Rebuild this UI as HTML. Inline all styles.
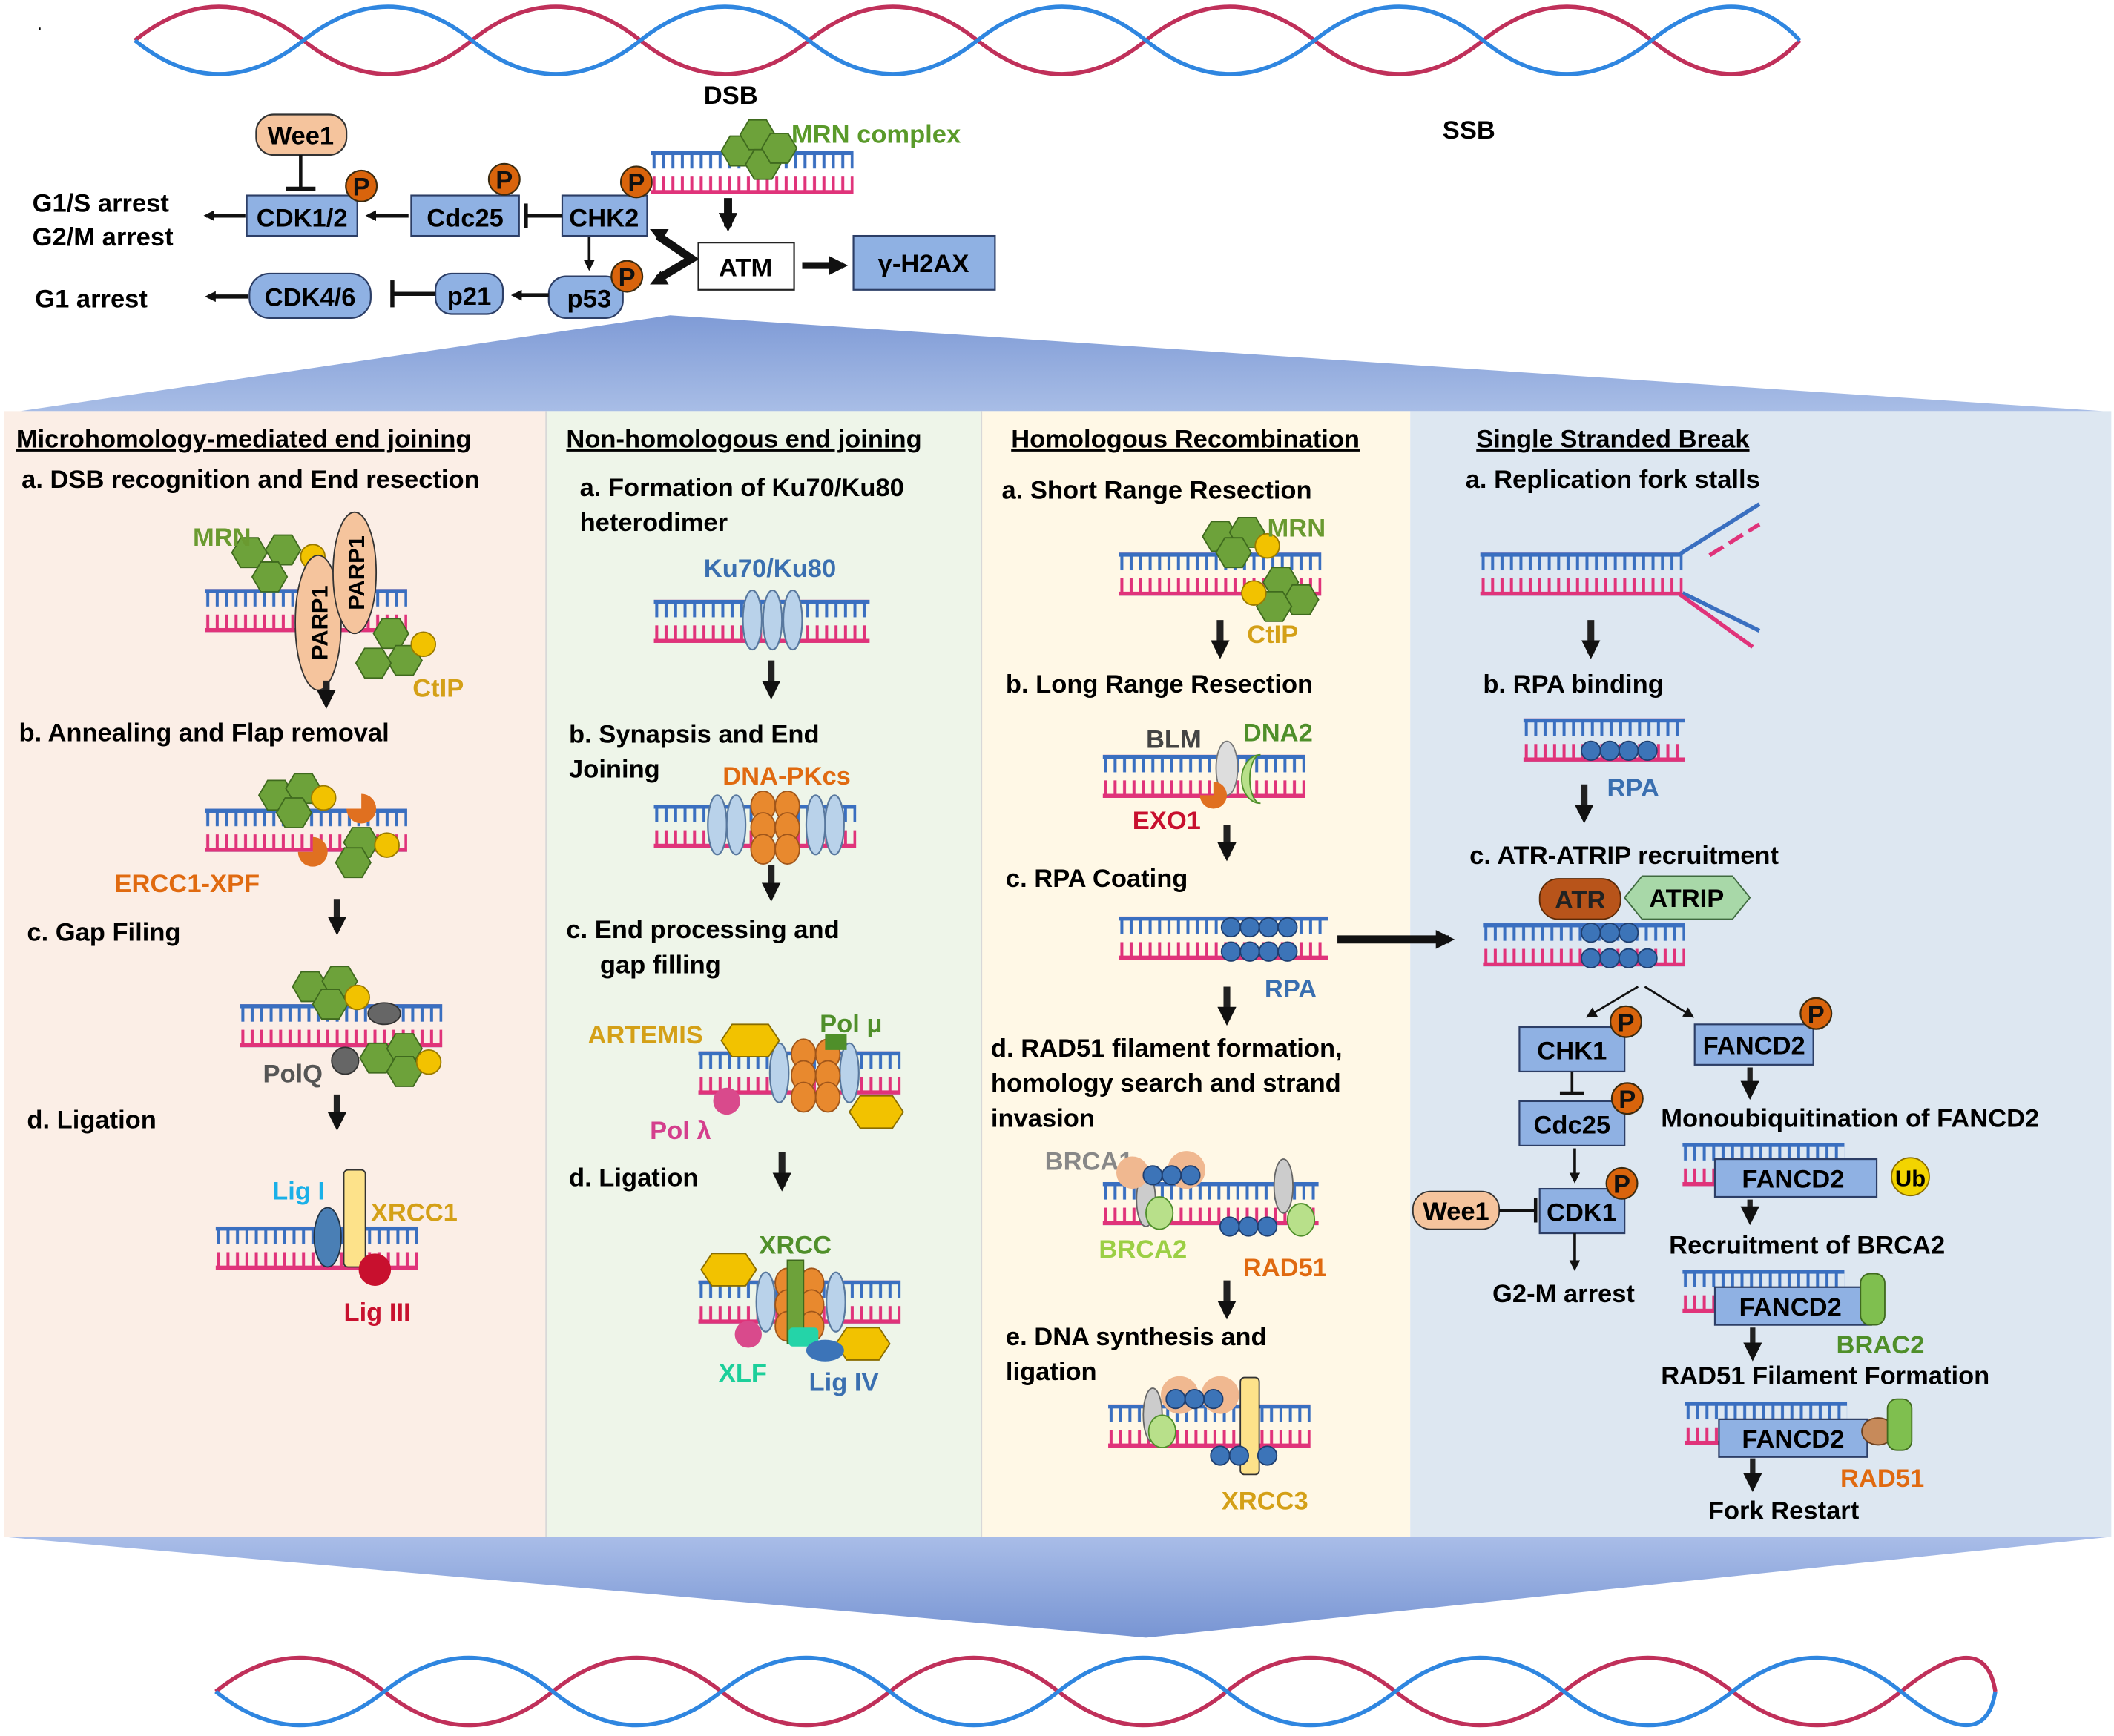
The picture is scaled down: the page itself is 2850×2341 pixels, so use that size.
<!DOCTYPE html>
<html><head><meta charset="utf-8"><style>
html,body{margin:0;padding:0;background:#fff}
svg{display:block}
text{font-family:"Liberation Sans",Arial,sans-serif;font-weight:bold}
</style></head><body>
<svg width="2850" height="2341" viewBox="0 0 1568 1288" xmlns="http://www.w3.org/2000/svg">
<defs>
<pattern id="lad" patternUnits="userSpaceOnUse" x="0" y="0" width="7" height="32">
<rect x="0" y="0" width="7" height="3" fill="#3a6fc0"/>
<rect x="1" y="0" width="2.2" height="13" fill="#3a6fc0"/>
<rect x="1" y="19" width="2.2" height="13" fill="#e0337a"/>
<rect x="0" y="29" width="7" height="3" fill="#e0337a"/>
</pattern>
<polygon id="hex" points="-13,0 -6.5,-11 6.5,-11 13,0 6.5,11 -6.5,11" fill="#6da23a" stroke="#3f6a1e" stroke-width="1"/>
<g id="P"><circle r="11.5" fill="#d9640c" stroke="#3a2a10" stroke-width="1.2"/><text y="7" text-anchor="middle" font-size="19" fill="#111">P</text></g>
<circle id="yc" r="9" fill="#f2c200" stroke="#9a7a00" stroke-width="1"/>
<circle id="bc" r="7" fill="#3c74b8" stroke="#1f3f70" stroke-width="1"/>
<ellipse id="le" rx="7" ry="22" fill="#b9d2ea" stroke="#58789e" stroke-width="1.2"/>
<ellipse id="oe" rx="9" ry="11" fill="#e8892e" stroke="#a1561a" stroke-width="1"/>
<marker id="ar" markerWidth="8" markerHeight="8" refX="6" refY="4" orient="auto" markerUnits="userSpaceOnUse"><path d="M0,0 L8,4 L0,8 z" fill="#111"/></marker>
<marker id="ar2" markerWidth="14" markerHeight="14" refX="10" refY="7" orient="auto" markerUnits="userSpaceOnUse"><path d="M0,0 L14,7 L0,14 z" fill="#111"/></marker>
<linearGradient id="tg" x1="0" y1="0" x2="0" y2="1"><stop offset="0" stop-color="#7f9bd6"/><stop offset="1" stop-color="#a8bde6"/></linearGradient>
<linearGradient id="bg" x1="0" y1="0" x2="0" y2="1"><stop offset="0" stop-color="#a9bde8"/><stop offset="1" stop-color="#7895d3"/></linearGradient>
</defs>

<!-- top helix -->
<path d="M100,30 Q162,-20 225,30 T350,30 T475,30 T600,30 T725,30 T850,30 T975,30 T1100,30 T1225,30 T1335,30" fill="none" stroke="#c0305a" stroke-width="3"/>
<path d="M100,30 Q162,80 225,30 T350,30 T475,30 T600,30 T725,30 T850,30 T975,30 T1100,30 T1225,30 T1335,30" fill="none" stroke="#2f86e0" stroke-width="3"/>
<text x="28" y="22" font-size="10">.</text>
<text x="522" y="77" font-size="19">DSB</text>
<text x="1070" y="103" font-size="19">SSB</text>

<!-- signaling -->
<rect x="190" y="85" width="67" height="30" rx="13" fill="#f5c49d" stroke="#333" stroke-width="1.2"/>
<text x="223" y="107" font-size="19" text-anchor="middle">Wee1</text>
<line x1="223" y1="115" x2="223" y2="140" stroke="#111" stroke-width="2.5"/><line x1="212" y1="140" x2="234" y2="140" stroke="#111" stroke-width="3"/>
<rect x="183" y="145" width="82" height="30" fill="#8fb1e3" stroke="#2c3e66" stroke-width="1.2"/><text x="224" y="168" font-size="19" text-anchor="middle">CDK1/2</text>
<use href="#P" x="268" y="138"/>
<rect x="305" y="145" width="80" height="30" fill="#8fb1e3" stroke="#2c3e66" stroke-width="1.2"/><text x="345" y="168" font-size="19" text-anchor="middle">Cdc25</text>
<use href="#P" x="374" y="133"/>
<rect x="417" y="145" width="63" height="30" fill="#8fb1e3" stroke="#2c3e66" stroke-width="1.2"/><text x="448" y="168" font-size="19" text-anchor="middle">CHK2</text>
<use href="#P" x="472" y="135"/>
<line x1="303" y1="160" x2="273" y2="160" stroke="#111" stroke-width="3" marker-end="url(#ar)"/>
<line x1="417" y1="160" x2="391" y2="160" stroke="#111" stroke-width="3"/><line x1="390" y1="151" x2="390" y2="169" stroke="#111" stroke-width="3"/>
<line x1="182" y1="160" x2="153" y2="160" stroke="#111" stroke-width="3" marker-end="url(#ar)"/>
<text x="24" y="157" font-size="19">G1/S arrest</text><text x="24" y="182" font-size="19">G2/M arrest</text>
<line x1="437" y1="176" x2="437" y2="199" stroke="#111" stroke-width="2" marker-end="url(#ar)"/>
<rect x="407" y="205" width="55" height="31" rx="13" fill="#8fb1e3" stroke="#2c3e66" stroke-width="1.2"/><text x="437" y="228" font-size="19" text-anchor="middle">p53</text>
<use href="#P" x="465" y="205"/>
<line x1="407" y1="219" x2="381" y2="219" stroke="#111" stroke-width="3" marker-end="url(#ar)"/>
<rect x="323" y="203" width="50" height="30" rx="12" fill="#8fb1e3" stroke="#2c3e66" stroke-width="1.2"/><text x="348" y="226" font-size="19" text-anchor="middle">p21</text>
<line x1="323" y1="218" x2="292" y2="218" stroke="#111" stroke-width="3"/><line x1="291" y1="208" x2="291" y2="228" stroke="#111" stroke-width="3"/>
<rect x="185" y="203" width="90" height="33" rx="15" fill="#8fb1e3" stroke="#2c3e66" stroke-width="1.2"/><text x="230" y="227" font-size="19" text-anchor="middle">CDK4/6</text>
<line x1="184" y1="220" x2="154" y2="220" stroke="#111" stroke-width="3" marker-end="url(#ar)"/>
<text x="26" y="228" font-size="19">G1 arrest</text>
<polyline points="488,175 513,192 488,207" fill="none" stroke="#111" stroke-width="6"/>
<path d="M482,170 l14,0 l-6,10 z M482,211 l14,0 l-6,-10 z" fill="#111"/>
<rect x="518" y="180" width="71" height="35" fill="#fff" stroke="#222" stroke-width="1.2"/><text x="553" y="205" font-size="19" text-anchor="middle">ATM</text>
<line x1="595" y1="197" x2="625" y2="197" stroke="#111" stroke-width="5" marker-end="url(#ar2)"/>
<rect x="633" y="175" width="105" height="40" fill="#8fb1e3" stroke="#2c3e66" stroke-width="1.2"/><text x="685" y="202" font-size="19" text-anchor="middle">γ-H2AX</text>
<rect width="150" height="32" fill="url(#lad)" transform="translate(483,112)"/>
<use href="#hex" x="548" y="112"/><use href="#hex" x="562" y="100"/><use href="#hex" x="566" y="122"/><use href="#hex" x="578" y="110"/>
<text x="587" y="106" font-size="19" fill="#5a9a2a">MRN complex</text>
<line x1="540" y1="147" x2="540" y2="168" stroke="#111" stroke-width="6" marker-end="url(#ar2)"/>

<polygon points="497,234 1560,305 15,305" fill="url(#tg)"/>

<!-- panels -->
<rect x="3" y="305" width="402" height="835" fill="#fbeee6"/>
<rect x="405" y="305" width="323" height="835" fill="#eef5e9"/>
<rect x="728" y="305" width="318" height="835" fill="#fff8e6"/>
<rect x="1046" y="305" width="520" height="835" fill="#dde7f1"/>
<line x1="405" y1="305" x2="405" y2="1140" stroke="#d8d8d8"/><line x1="728" y1="305" x2="728" y2="1140" stroke="#d8d8d8"/>

<!-- panel 1 -->
<text x="12" y="332" font-size="19" text-decoration="underline">Microhomology-mediated end joining</text>
<text x="16" y="362" font-size="19">a. DSB recognition and End resection</text>
<rect width="150" height="32" fill="url(#lad)" transform="translate(152,437)"/>
<use href="#hex" x="185" y="410"/><use href="#hex" x="210" y="408"/><use href="#hex" x="200" y="428"/><use href="#yc" x="232" y="413"/>
<ellipse cx="236" cy="462" rx="17" ry="50" fill="#f5c49d" stroke="#333"/><text transform="translate(243,462) rotate(-90)" font-size="17" text-anchor="middle">PARP1</text>
<ellipse cx="263" cy="425" rx="16" ry="45" fill="#f5c49d" stroke="#333"/><text transform="translate(270,425) rotate(-90)" font-size="17" text-anchor="middle">PARP1</text>
<use href="#hex" x="290" y="470"/><use href="#hex" x="300" y="490"/><use href="#hex" x="277" y="492"/><use href="#yc" x="314" y="478"/>
<text x="143" y="405" font-size="19" fill="#6a9a30">MRN</text>
<text x="306" y="517" font-size="19" fill="#d4a017">CtIP</text>
<line x1="242" y1="505" x2="242" y2="522" stroke="#222" stroke-width="5" marker-end="url(#ar2)"/>
<text x="14" y="550" font-size="19">b. Annealing and Flap removal</text>
<rect width="150" height="32" fill="url(#lad)" transform="translate(152,600)"/>
<use href="#hex" x="205" y="590"/><use href="#hex" x="225" y="585"/><use href="#hex" x="218" y="603"/><use href="#yc" x="240" y="592"/>
<path d="M268,600 m-11,0 a11,11 0 1,0 11,-11 l0,11 z" fill="#e07020"/>
<path d="M232,632 m-11,0 a11,11 0 1,0 11,-11 l0,11 z" fill="#e07020"/>
<use href="#hex" x="268" y="625"/><use href="#hex" x="262" y="640"/><use href="#yc" x="287" y="627"/>
<text x="85" y="662" font-size="19" fill="#e06a10">ERCC1-XPF</text>
<line x1="250" y1="667" x2="250" y2="690" stroke="#222" stroke-width="5" marker-end="url(#ar2)"/>
<text x="20" y="698" font-size="19">c. Gap Filing</text>
<rect width="150" height="32" fill="url(#lad)" transform="translate(178,745)"/>
<use href="#hex" x="230" y="732"/><use href="#hex" x="252" y="728"/><use href="#hex" x="245" y="745"/><use href="#yc" x="265" y="740"/>
<ellipse cx="285" cy="752" rx="12" ry="8" fill="#666" stroke="#333"/><circle cx="256" cy="787" r="10" fill="#666" stroke="#333"/>
<use href="#hex" x="280" y="785"/><use href="#hex" x="300" y="778"/><use href="#hex" x="300" y="795"/><use href="#yc" x="318" y="788"/>
<text x="195" y="803" font-size="19" fill="#555">PolQ</text>
<line x1="250" y1="812" x2="250" y2="835" stroke="#222" stroke-width="5" marker-end="url(#ar2)"/>
<text x="20" y="837" font-size="19">d. Ligation</text>
<rect width="150" height="32" fill="url(#lad)" transform="translate(160,910)"/>
<ellipse cx="243" cy="918" rx="10" ry="22" fill="#4a7fb5" stroke="#234"/>
<rect x="255" y="868" width="16" height="72" rx="3" fill="#fde28a" stroke="#333"/>
<circle cx="278" cy="942" r="12" fill="#c8102e"/>
<text x="202" y="890" font-size="19" fill="#1ab0e8">Lig I</text>
<text x="275" y="906" font-size="19" fill="#d4a017">XRCC1</text>
<text x="255" y="980" font-size="19" fill="#c8102e">Lig III</text>

<!-- panel 2 -->
<text x="420" y="332" font-size="19" text-decoration="underline">Non-homologous end joining</text>
<text x="430" y="368" font-size="19">a. Formation of Ku70/Ku80</text>
<text x="430" y="394" font-size="19">heterodimer</text>
<text x="522" y="428" font-size="19" fill="#3a6fb0">Ku70/Ku80</text>
<rect width="160" height="32" fill="url(#lad)" transform="translate(485,445)"/>
<use href="#le" x="558" y="460"/><use href="#le" x="573" y="460"/><use href="#le" x="588" y="460"/>
<line x1="572" y1="490" x2="572" y2="515" stroke="#222" stroke-width="5" marker-end="url(#ar2)"/>
<text x="422" y="551" font-size="19">b. Synapsis and End</text>
<text x="422" y="577" font-size="19">Joining</text>
<text x="536" y="582" font-size="19" fill="#e06a10">DNA-PKcs</text>
<rect width="150" height="32" fill="url(#lad)" transform="translate(485,597)"/>
<use href="#le" x="532" y="612"/><use href="#le" x="546" y="612"/><use href="#le" x="605" y="612"/><use href="#le" x="619" y="612"/>
<use href="#oe" x="566" y="598"/><use href="#oe" x="584" y="598"/><use href="#oe" x="566" y="614"/><use href="#oe" x="584" y="614"/><use href="#oe" x="566" y="630"/><use href="#oe" x="584" y="630"/>
<line x1="572" y1="642" x2="572" y2="665" stroke="#222" stroke-width="5" marker-end="url(#ar2)"/>
<text x="420" y="696" font-size="19">c. End processing and</text>
<text x="445" y="722" font-size="19">gap filling</text>
<text x="436" y="774" font-size="19" fill="#d4a017">ARTEMIS</text>
<text x="608" y="766" font-size="19" fill="#4f8f2a">Pol μ</text>
<text x="482" y="845" font-size="19" fill="#d43f8d">Pol λ</text>
<rect width="150" height="32" fill="url(#lad)" transform="translate(518,780)"/>
<use href="#le" x="578" y="796"/><use href="#le" x="630" y="796"/>
<use href="#oe" x="596" y="782"/><use href="#oe" x="614" y="782"/><use href="#oe" x="596" y="798"/><use href="#oe" x="614" y="798"/><use href="#oe" x="596" y="814"/><use href="#oe" x="614" y="814"/>
<polygon points="535,772 543,760 570,760 578,772 570,784 543,784" fill="#f2c200" stroke="#8a6d00"/>
<polygon points="630,825 638,813 662,813 670,825 662,837 638,837" fill="#f2c200" stroke="#8a6d00"/>
<circle cx="539" cy="817" r="10" fill="#d94a8c"/>
<rect x="612" y="767" width="16" height="12" fill="#4f8f2a"/>
<line x1="580" y1="855" x2="580" y2="880" stroke="#222" stroke-width="5" marker-end="url(#ar2)"/>
<text x="422" y="880" font-size="19">d. Ligation</text>
<text x="563" y="930" font-size="19" fill="#4f8f2a">XRCC</text>
<rect width="150" height="32" fill="url(#lad)" transform="translate(518,950)"/>
<use href="#le" x="568" y="966"/><use href="#le" x="620" y="966"/>
<use href="#oe" x="584" y="952"/><use href="#oe" x="602" y="952"/><use href="#oe" x="584" y="968"/><use href="#oe" x="602" y="968"/><use href="#oe" x="584" y="984"/><use href="#oe" x="602" y="984"/>
<rect x="584" y="935" width="12" height="62" fill="#6da23a" stroke="#3f6a1e"/>
<polygon points="520,942 528,930 553,930 561,942 553,954 528,954" fill="#f2c200" stroke="#8a6d00"/>
<polygon points="620,997 628,985 652,985 660,997 652,1009 628,1009" fill="#f2c200" stroke="#8a6d00"/>
<circle cx="555" cy="990" r="10" fill="#d94a8c"/>
<rect x="585" y="985" width="22" height="14" rx="3" fill="#24d4a8"/>
<ellipse cx="612" cy="1002" rx="14" ry="8" fill="#3c74b8"/>
<text x="533" y="1025" font-size="19" fill="#1ccf9a">XLF</text>
<text x="600" y="1032" font-size="19" fill="#3a6fb0">Lig IV</text>

<!-- panel 3 -->
<text x="750" y="332" font-size="19" text-decoration="underline">Homologous Recombination</text>
<text x="743" y="370" font-size="19">a. Short Range Resection</text>
<rect width="150" height="32" fill="url(#lad)" transform="translate(830,410)"/>
<use href="#hex" x="905" y="398"/><use href="#hex" x="925" y="395"/><use href="#hex" x="915" y="410"/><use href="#yc" x="940" y="405"/>
<use href="#hex" x="950" y="432"/><use href="#hex" x="965" y="445"/><use href="#hex" x="945" y="450"/><use href="#yc" x="930" y="440"/>
<text x="940" y="398" font-size="19" fill="#6a9a30">MRN</text>
<text x="925" y="477" font-size="19" fill="#d4a017">CtIP</text>
<line x1="905" y1="460" x2="905" y2="485" stroke="#222" stroke-width="5" marker-end="url(#ar2)"/>
<text x="746" y="514" font-size="19">b. Long Range Resection</text>
<text x="850" y="555" font-size="19" fill="#444">BLM</text>
<text x="922" y="550" font-size="19" fill="#4f8f2a">DNA2</text>
<rect width="150" height="32" fill="url(#lad)" transform="translate(818,560)"/>
<ellipse cx="910" cy="570" rx="8" ry="20" fill="#ddd" stroke="#777"/>
<path d="M935,560 a14,18 0 1,0 0,36 a8,18 0 1,1 0,-36z" fill="#b8e08a" stroke="#4f8f2a"/>
<path d="M900,590 m-10,0 a10,10 0 1,0 10,-10 l0,10 z" fill="#e07020"/>
<text x="840" y="615" font-size="19" fill="#c8102e">EXO1</text>
<line x1="910" y1="612" x2="910" y2="635" stroke="#222" stroke-width="5" marker-end="url(#ar2)"/>
<text x="746" y="658" font-size="19">c. RPA Coating</text>
<rect width="155" height="32" fill="url(#lad)" transform="translate(830,680)"/>
<use href="#bc" x="913" y="688"/><use href="#bc" x="927" y="688"/><use href="#bc" x="941" y="688"/><use href="#bc" x="913" y="706"/><use href="#bc" x="927" y="706"/><use href="#bc" x="941" y="706"/><use href="#bc" x="955" y="688"/><use href="#bc" x="955" y="706"/>
<text x="938" y="740" font-size="19" fill="#3a6fb0">RPA</text>
<line x1="910" y1="732" x2="910" y2="757" stroke="#222" stroke-width="5" marker-end="url(#ar2)"/>
<text x="735" y="784" font-size="19">d. RAD51 filament formation,</text>
<text x="735" y="810" font-size="19">homology search and strand</text>
<text x="735" y="836" font-size="19">invasion</text>
<text x="775" y="868" font-size="19" fill="#888">BRCA1</text>
<rect width="160" height="32" fill="url(#lad)" transform="translate(818,877)"/>
<ellipse cx="850" cy="890" rx="7" ry="20" fill="#ccc" stroke="#666"/><ellipse cx="952" cy="880" rx="7" ry="20" fill="#ccc" stroke="#666"/>
<circle cx="840" cy="870" r="12" fill="#f0b890"/><circle cx="880" cy="868" r="14" fill="#f0b890"/>
<use href="#bc" x="855" y="872"/><use href="#bc" x="869" y="872"/><use href="#bc" x="883" y="872"/>
<ellipse cx="860" cy="900" rx="10" ry="12" fill="#b8e08a" stroke="#4f8f2a"/><ellipse cx="965" cy="905" rx="10" ry="12" fill="#b8e08a" stroke="#4f8f2a"/>
<use href="#bc" x="912" y="910"/><use href="#bc" x="926" y="910"/><use href="#bc" x="940" y="910"/>
<text x="815" y="933" font-size="19" fill="#9ccf45">BRCA2</text>
<text x="922" y="947" font-size="19" fill="#e06a10">RAD51</text>
<line x1="910" y1="950" x2="910" y2="975" stroke="#222" stroke-width="5" marker-end="url(#ar2)"/>
<text x="746" y="998" font-size="19">e. DNA synthesis and</text>
<text x="746" y="1024" font-size="19">ligation</text>
<rect width="150" height="32" fill="url(#lad)" transform="translate(822,1042)"/>
<circle cx="875" cy="1035" r="14" fill="#f0b890"/><circle cx="905" cy="1035" r="14" fill="#f0b890"/>
<use href="#bc" x="872" y="1038"/><use href="#bc" x="886" y="1038"/><use href="#bc" x="900" y="1038"/>
<ellipse cx="855" cy="1050" rx="7" ry="20" fill="#ccc" stroke="#666"/><ellipse cx="862" cy="1062" rx="10" ry="12" fill="#b8e08a" stroke="#4f8f2a"/>
<rect x="920" y="1022" width="14" height="72" rx="3" fill="#fde28a" stroke="#333"/>
<use href="#bc" x="905" y="1080"/><use href="#bc" x="919" y="1080"/><use href="#bc" x="940" y="1080"/>
<text x="906" y="1120" font-size="19" fill="#d4a017">XRCC3</text>

<line x1="992" y1="697" x2="1075" y2="697" stroke="#111" stroke-width="6" marker-end="url(#ar2)"/>

<!-- panel 4 -->
<text x="1095" y="332" font-size="19" text-decoration="underline">Single Stranded Break</text>
<text x="1087" y="362" font-size="19">a. Replication fork stalls</text>
<rect width="150" height="32" fill="url(#lad)" transform="translate(1098,410)"/>
<line x1="1246" y1="411" x2="1305" y2="374" stroke="#3a6fc0" stroke-width="3"/>
<line x1="1268" y1="412" x2="1305" y2="389" stroke="#e0337a" stroke-width="3" stroke-dasharray="12,5"/>
<line x1="1248" y1="440" x2="1305" y2="468" stroke="#3a6fc0" stroke-width="3"/>
<line x1="1246" y1="441" x2="1300" y2="480" stroke="#e0337a" stroke-width="3"/>
<line x1="1180" y1="460" x2="1180" y2="485" stroke="#222" stroke-width="5" marker-end="url(#ar2)"/>
<text x="1100" y="514" font-size="19">b. RPA binding</text>
<rect width="120" height="32" fill="url(#lad)" transform="translate(1130,533)"/>
<use href="#bc" x="1180" y="557"/><use href="#bc" x="1194" y="557"/><use href="#bc" x="1208" y="557"/><use href="#bc" x="1222" y="557"/>
<text x="1192" y="591" font-size="19" fill="#3a6fb0">RPA</text>
<line x1="1175" y1="582" x2="1175" y2="607" stroke="#222" stroke-width="5" marker-end="url(#ar2)"/>
<text x="1090" y="641" font-size="19">c. ATR-ATRIP recruitment</text>
<rect width="150" height="32" fill="url(#lad)" transform="translate(1100,685)"/>
<use href="#bc" x="1180" y="692"/><use href="#bc" x="1194" y="692"/><use href="#bc" x="1208" y="692"/><use href="#bc" x="1180" y="711"/><use href="#bc" x="1194" y="711"/><use href="#bc" x="1208" y="711"/><use href="#bc" x="1222" y="711"/>
<rect x="1142" y="652" width="60" height="30" rx="14" fill="#b8541a" stroke="#5a2a08"/><text x="1172" y="674" font-size="19" text-anchor="middle" fill="#222">ATR</text>
<polygon points="1205,666 1218,650 1285,650 1298,666 1285,682 1218,682" fill="#a8d8a8" stroke="#3f6a3f"/><text x="1251" y="673" font-size="19" text-anchor="middle">ATRIP</text>
<line x1="1215" y1="732" x2="1178" y2="754" stroke="#111" stroke-width="1.5" marker-end="url(#ar)"/>
<line x1="1220" y1="732" x2="1255" y2="754" stroke="#111" stroke-width="1.5" marker-end="url(#ar)"/>
<rect x="1127" y="762" width="78" height="33" fill="#8fb1e3" stroke="#2c3e66" stroke-width="1.2"/><text x="1166" y="786" font-size="19" text-anchor="middle">CHK1</text>
<use href="#P" x="1206" y="758"/>
<rect x="1257" y="760" width="88" height="30" fill="#8fb1e3" stroke="#2c3e66" stroke-width="1.2"/><text x="1301" y="782" font-size="19" text-anchor="middle">FANCD2</text>
<use href="#P" x="1347" y="752"/>
<line x1="1166" y1="795" x2="1166" y2="811" stroke="#111" stroke-width="2"/><line x1="1157" y1="811" x2="1175" y2="811" stroke="#111" stroke-width="2.5"/>
<rect x="1127" y="817" width="78" height="33" fill="#8fb1e3" stroke="#2c3e66" stroke-width="1.2"/><text x="1166" y="841" font-size="19" text-anchor="middle">Cdc25</text>
<use href="#P" x="1207" y="815"/>
<line x1="1168" y1="852" x2="1168" y2="876" stroke="#111" stroke-width="2" marker-end="url(#ar)"/>
<rect x="1142" y="882" width="63" height="33" fill="#8fb1e3" stroke="#2c3e66" stroke-width="1.2"/><text x="1173" y="906" font-size="19" text-anchor="middle">CDK1</text>
<use href="#P" x="1203" y="878"/>
<rect x="1048" y="884" width="64" height="28" rx="13" fill="#f5c49d" stroke="#333"/><text x="1080" y="905" font-size="19" text-anchor="middle">Wee1</text>
<line x1="1112" y1="898" x2="1138" y2="898" stroke="#111" stroke-width="2"/><line x1="1139" y1="889" x2="1139" y2="907" stroke="#111" stroke-width="2.5"/>
<line x1="1168" y1="915" x2="1168" y2="941" stroke="#111" stroke-width="2" marker-end="url(#ar)"/>
<text x="1107" y="966" font-size="19">G2-M arrest</text>
<line x1="1298" y1="792" x2="1298" y2="812" stroke="#222" stroke-width="4" marker-end="url(#ar2)"/>
<text x="1232" y="836" font-size="19">Monoubiquitination of FANCD2</text>
<rect width="120" height="32" fill="url(#lad)" transform="translate(1248,848)"/>
<rect x="1272" y="860" width="120" height="28" fill="#8fb1e3" stroke="#2c3e66" stroke-width="1.2"/><text x="1330" y="881" font-size="19" text-anchor="middle">FANCD2</text>
<circle cx="1417" cy="873" r="14" fill="#f2d400" stroke="#8a6d00"/><text x="1417" y="880" font-size="17" text-anchor="middle">Ub</text>
<line x1="1298" y1="890" x2="1298" y2="905" stroke="#222" stroke-width="4" marker-end="url(#ar2)"/>
<text x="1238" y="930" font-size="19">Recruitment of BRCA2</text>
<rect width="120" height="32" fill="url(#lad)" transform="translate(1248,942)"/>
<rect x="1272" y="955" width="116" height="28" fill="#8fb1e3" stroke="#2c3e66" stroke-width="1.2"/><text x="1328" y="976" font-size="19" text-anchor="middle">FANCD2</text>
<rect x="1380" y="945" width="18" height="38" rx="7" fill="#7fbf4f" stroke="#3f6a1e"/>
<text x="1362" y="1004" font-size="19" fill="#4f8f2a">BRAC2</text>
<line x1="1300" y1="985" x2="1300" y2="1006" stroke="#222" stroke-width="4" marker-end="url(#ar2)"/>
<text x="1232" y="1027" font-size="19">RAD51  Filament Formation</text>
<rect width="120" height="32" fill="url(#lad)" transform="translate(1250,1040)"/>
<rect x="1275" y="1053" width="110" height="28" fill="#8fb1e3" stroke="#2c3e66" stroke-width="1.2"/><text x="1330" y="1074" font-size="19" text-anchor="middle">FANCD2</text>
<ellipse cx="1393" cy="1062" rx="12" ry="10" fill="#c78a5a" stroke="#6a4020"/>
<rect x="1400" y="1038" width="18" height="38" rx="7" fill="#7fbf4f" stroke="#3f6a1e"/>
<line x1="1300" y1="1082" x2="1300" y2="1103" stroke="#222" stroke-width="4" marker-end="url(#ar2)"/>
<text x="1267" y="1127" font-size="19">Fork Restart</text>
<text x="1365" y="1103" font-size="19" fill="#e06a10">RAD51</text>

<polygon points="0,1140 1568,1140 850,1215" fill="url(#bg)"/>

<path d="M160,1255 Q222,1205 285,1255 T410,1255 T535,1255 T660,1255 T785,1255 T910,1255 T1035,1255 T1160,1255 T1285,1255 T1410,1255 T1480,1255" fill="none" stroke="#c0305a" stroke-width="3"/>
<path d="M160,1255 Q222,1305 285,1255 T410,1255 T535,1255 T660,1255 T785,1255 T910,1255 T1035,1255 T1160,1255 T1285,1255 T1410,1255 T1480,1255" fill="none" stroke="#2f86e0" stroke-width="3"/>
</svg>
</body></html>
